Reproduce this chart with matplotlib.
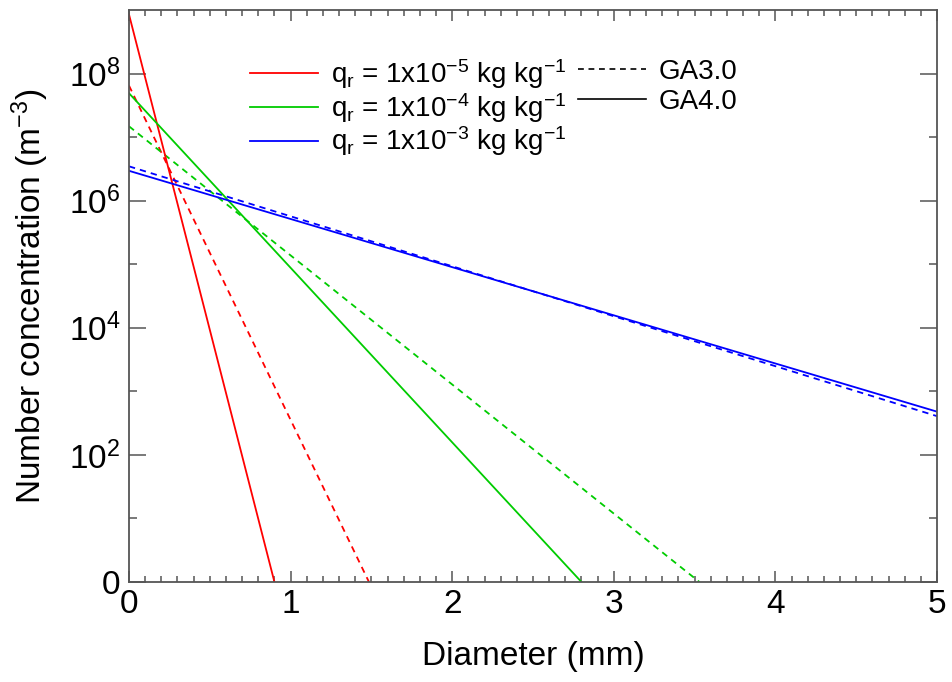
import matplotlib
matplotlib.use("Agg")
import matplotlib.pyplot as plt
from matplotlib.lines import Line2D
from matplotlib.ticker import FixedLocator, FixedFormatter

plt.rcParams['font.family'] = ['Liberation Sans', 'DejaVu Sans']
plt.rcParams['mathtext.fontset'] = 'custom'
plt.rcParams['mathtext.rm'] = 'Liberation Sans'
plt.rcParams['mathtext.it'] = 'Liberation Sans:italic'
plt.rcParams['mathtext.bf'] = 'Liberation Sans:bold'

# ---- data ----
qr_labels = [r'q$_{\rm r}$ = 1x10$^{-5}$ kg kg$^{-1}$',
             r'q$_{\rm r}$ = 1x10$^{-4}$ kg kg$^{-1}$',
             r'q$_{\rm r}$ = 1x10$^{-3}$ kg kg$^{-1}$']
qr_colors = ['#ff0000', '#00cc00', '#0000ff']

# GA3.0 (dashed) : diameter (mm) and number concentration (m^-3)
ga3_diam = [[0.0, 1.485], [0.0, 3.53], [0.0, 5.0]]
ga3_conc = [[6.46e7, 1.0], [1.48e7, 1.0], [3.47e6, 407.0]]
# GA4.0 (solid)
ga4_diam = [[0.0, 0.90], [0.0, 2.80], [0.0, 5.0]]
ga4_conc = [[8.5e8, 1.0], [4.9e7, 1.0], [2.95e6, 479.0]]

style_labels = ['GA3.0', 'GA4.0']

ytick_vals = [1e0, 1e2, 1e4, 1e6, 1e8]
ytick_labels = ['0', r'10$^{2}$', r'10$^{4}$', r'10$^{6}$', r'10$^{8}$']
yminor_vals = [1e1, 1e3, 1e5, 1e7]

DASH = (0, (3.5, 2.8))

fig = plt.figure(figsize=(9.52, 6.82), dpi=100)
ax = fig.add_axes([129/952, 1-582/682, (937-129)/952, (582-10)/682])

for d, c, col in zip(ga3_diam, ga3_conc, qr_colors):
    ax.plot(d, c, color=col, lw=1.3, linestyle=DASH)
for d, c, col in zip(ga4_diam, ga4_conc, qr_colors):
    ax.plot(d, c, color=col, lw=1.3, linestyle='-')

ax.set_yscale('log')
ax.set_xlim(0, 5)
ax.set_ylim(1, 1e9)

ax.yaxis.set_major_locator(FixedLocator(ytick_vals))
ax.yaxis.set_major_formatter(FixedFormatter(ytick_labels))
ax.yaxis.set_minor_locator(FixedLocator(yminor_vals))
ax.yaxis.set_minor_formatter(FixedFormatter([]))
ax.set_xticks([0, 1, 2, 3, 4, 5])
ax.set_xticklabels(['0', '1', '2', '3', '4', '5'])
ax.set_xticks([i / 10 for i in range(51)], minor=True)

spine_col = '#555555'
for s in ax.spines.values():
    s.set_color(spine_col)
    s.set_linewidth(1.3)
ax.tick_params(axis='both', which='both', direction='in', top=True, right=True,
               color=spine_col, width=1.1, labelsize=24)
ax.tick_params(axis='y', which='major', length=12, pad=6)
ax.tick_params(axis='y', which='minor', length=6)
ax.tick_params(axis='x', which='major', length=8, pad=5)
ax.tick_params(axis='x', which='minor', length=4)

ax.set_xlabel('Diameter (mm)', fontsize=24, labelpad=15)
ax.set_ylabel(r'Number concentration (m$^{-3}$)', fontsize=24, labelpad=13)

h1 = [Line2D([], [], color=col, lw=1.3) for col in qr_colors]
leg1 = ax.legend(h1, qr_labels, loc='upper left', bbox_to_anchor=((250-129)/808, 1-(57-10)/572),
                 frameon=False, fontsize=20, handlelength=2.45, handletextpad=0.45,
                 labelspacing=0.0, borderpad=0, borderaxespad=0)
ax.add_artist(leg1)
h2 = [Line2D([], [], color='black', lw=1.2, linestyle=DASH),
      Line2D([], [], color='black', lw=1.2, linestyle='-')]
ax.legend(h2, style_labels, loc='upper left', bbox_to_anchor=((578-129)/808, 1-(59-10)/572),
          frameon=False, fontsize=20, handlelength=2.45, handletextpad=0.45,
          labelspacing=0.15, borderpad=0, borderaxespad=0)

fig.savefig('out.png', dpi=100)
